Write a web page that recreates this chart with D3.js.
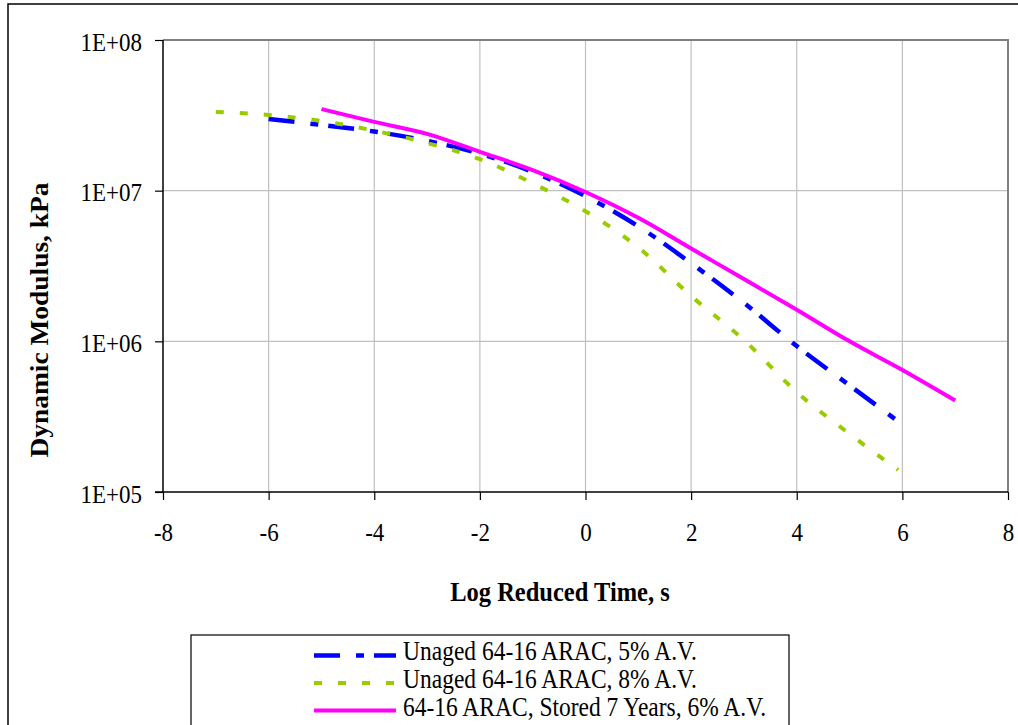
<!DOCTYPE html>
<html><head><meta charset="utf-8">
<script src="https://cdn.jsdelivr.net/npm/d3@7"></script>
<style>body{margin:0;background:#fff;} svg{display:block;font-family:"Liberation Serif","Times New Roman",serif;}</style>
</head><body><svg id="c" width="1018" height="725"></svg>
<script>
const xTicks = [-8,-6,-4,-2,0,2,4,6,8];
const yTicks = [1e5,1e6,1e7,1e8];
const yTickLabels = ["1E+05","1E+06","1E+07","1E+08"];
const seriesNames = ["Unaged 64-16 ARAC, 5% A.V.","Unaged 64-16 ARAC, 8% A.V.","64-16 ARAC, Stored 7 Years, 6% A.V."];
const blueX = [-6,-5,-4,-3,-2,-1,0,1,2,3,4,5,5.86];
const blueY = [2.99e7,2.73e7,2.47e7,2.14e7,1.76e7,1.33e7,9.2e6,5.8e6,3.3e6,1.8e6,9.3e5,5.1e5,3.05e5];
const greenX = [-7,-6,-5,-4,-3,-2,-1,0,1,2,3,4,5,5.92];
const greenY = [3.33e7,3.18e7,2.9e7,2.5e7,2.07e7,1.62e7,1.12e7,7.3e6,4.2e6,2.0e6,1.02e6,4.6e5,2.43e5,1.4e5];
const magX = [-5,-4,-3,-2,-1,0,1,2,3,4,5,6,7];
const magY = [3.48e7,2.86e7,2.38e7,1.81e7,1.37e7,9.8e6,6.6e6,4.13e6,2.59e6,1.62e6,1.0e6,6.46e5,4.05e5];

const svg = d3.select("#c");
const L=163,R=1008,T=40,B=492;
const SY = 1.12; // vertical glyph stretch seen in the reference
const x = d3.scaleLinear().domain([-8,8]).range([L,R]);
const y = d3.scaleLog().domain([1e5,1e8]).range([B,T]);

// outer border
svg.append("rect").attr("x",8).attr("y",4).attr("width",1030).attr("height",740)
  .attr("fill","none").attr("stroke","#000").attr("stroke-width",1.5);

// gridlines
const g = svg.append("g");
g.selectAll(".vg").data(xTicks.slice(1,-1)).enter().append("line")
  .attr("x1",d=>x(d)).attr("x2",d=>x(d)).attr("y1",T).attr("y2",B)
  .attr("stroke","#c0c0c0").attr("stroke-width",1.2);
g.selectAll(".hg").data(yTicks.slice(1,-1)).enter().append("line")
  .attr("x1",L).attr("x2",R).attr("y1",d=>y(d)).attr("y2",d=>y(d))
  .attr("stroke","#c0c0c0").attr("stroke-width",1.2);
// top/right border
svg.append("path").attr("d",`M${L},${T}H${R}V${B}`).attr("fill","none").attr("stroke","#808080").attr("stroke-width",2);

// axes
const xAxis = d3.axisBottom(x).tickValues(xTicks).tickSize(8).tickFormat(d=>d);
const gx = svg.append("g").attr("transform",`translate(0,${B})`).call(xAxis);
gx.select(".domain").attr("stroke","#000").attr("stroke-width",1.5).attr("d",`M${L-8},0H${R}`);
gx.selectAll(".tick line").attr("stroke","#000").attr("stroke-width",1.2);
gx.selectAll("text").attr("font-size",23).attr("fill","#000").attr("font-family","Liberation Serif, serif")
  .attr("y",0).attr("dy",0).attr("transform",`translate(0,49) scale(1,${SY})`);

const yAxis = d3.axisLeft(y).tickValues(yTicks).tickSize(8).tickFormat((d,i)=>yTickLabels[i]);
const gy = svg.append("g").attr("transform",`translate(${L},0)`).call(yAxis);
gy.select(".domain").attr("stroke","#000").attr("stroke-width",1.5).attr("d",`M0,${T}V${B}`);
gy.selectAll(".tick line").attr("stroke","#000").attr("stroke-width",1.2);
gy.selectAll("text").attr("font-size",23).attr("fill","#000").attr("font-family","Liberation Serif, serif")
  .attr("x",0).attr("dy",0).attr("transform",`translate(-21,10) scale(1,${SY})`);

// series
const line = d3.line().x(d=>x(d[0])).y(d=>y(d[1])).curve(d3.curveMonotoneX);
const series = [
  {xs:blueX, ys:blueY, color:"#0000ff", dash:"26,16,8,10", w:4.5},
  {xs:greenX, ys:greenY, color:"#99cc00", dash:"8,16", w:4},
  {xs:magX, ys:magY, color:"#ff00ff", dash:null, w:4}
];
series.forEach(s=>{
  svg.append("path").datum(s.xs.map((v,i)=>[v,s.ys[i]])).attr("d",line)
    .attr("fill","none").attr("stroke",s.color).attr("stroke-width",s.w)
    .attr("stroke-dasharray",s.dash);
});

// axis titles
svg.append("text").attr("transform",`translate(560,601) scale(1,${SY})`).attr("text-anchor","middle")
  .attr("font-size",24.5).attr("font-weight","bold").text("Log Reduced Time, s");
svg.append("text").attr("transform",`translate(48,320) rotate(-90) scale(${SY},1)`).attr("text-anchor","middle")
  .attr("font-size",24.5).attr("font-weight","bold").text("Dynamic Modulus, kPa");

// legend
const lg = svg.append("g");
lg.append("rect").attr("x",191).attr("y",635).attr("width",598).attr("height",120)
  .attr("fill","#fff").attr("stroke","#000").attr("stroke-width",1.2);
series.forEach((s,i)=>{
  const cy = 655.5 + i*27.5;
  lg.append("line").attr("x1",314).attr("x2",396).attr("y1",cy).attr("y2",cy)
    .attr("stroke",s.color).attr("stroke-width",s.w).attr("stroke-dasharray",s.dash);
  lg.append("text").attr("transform",`translate(403,${660 + i*28}) scale(1,${SY})`).attr("font-size",23.5)
    .attr("fill","#000").text(seriesNames[i]);
});
</script></body></html>
